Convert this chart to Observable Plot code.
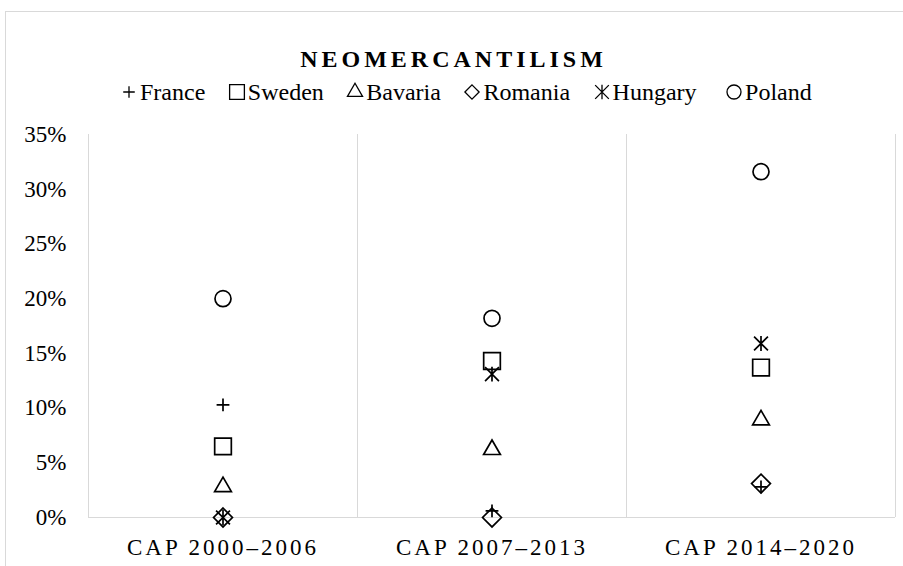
<!DOCTYPE html>
<html><head><meta charset="utf-8">
<script src="https://cdn.jsdelivr.net/npm/d3@7"></script>
<script src="https://cdn.jsdelivr.net/npm/@observablehq/plot@0.6"></script>
<style>
body{margin:0;background:#fff;}
#wrap{position:relative;width:903px;height:566px;overflow:hidden;font-family:"Liberation Serif","Times New Roman",serif;color:#000;}
#border{position:absolute;left:5px;top:11px;width:1000px;height:1000px;border:1px solid #d9d9d9;box-sizing:border-box;}
#title{position:absolute;left:0;top:47px;width:903px;text-align:center;font-weight:bold;font-size:24px;line-height:24px;letter-spacing:4px;padding-left:4px;box-sizing:border-box;}
#legend{position:absolute;left:121px;top:80px;display:flex;align-items:center;font-size:24px;line-height:24px;white-space:nowrap;}
#legend .item{display:flex;align-items:center;margin-right:23.5px;}
#legend .item:last-child{margin-left:6px;}
#legend svg{margin-right:3px;overflow:visible;}
#chart{position:absolute;left:0;top:120px;}
</style></head>
<body>
<div id="wrap">
  <div id="border"></div>
  <div id="title">NEOMERCANTILISM</div>
  <div id="legend"></div>
  <div id="chart"></div>
</div>
<script>
const categories = ["CAP 2000–2006", "CAP 2007–2013", "CAP 2014–2020"];
const seriesNames = ["France", "Sweden", "Bavaria", "Romania", "Hungary", "Poland"];
const france  = [0.103, 0.006, 0.028];
const sweden  = [0.065, 0.143, 0.137];
const bavaria = [0.028, 0.062, 0.089];
const romania = [0.000, 0.000, 0.031];
const hungary = [0.000, 0.131, 0.159];
const poland  = [0.200, 0.182, 0.316];
const yTicks = [0, 0.05, 0.10, 0.15, 0.20, 0.25, 0.30, 0.35];

const values = {France: france, Sweden: sweden, Bavaria: bavaria, Romania: romania, Hungary: hungary, Poland: poland};

// Excel-style "star" marker: an X plus a vertical stroke
const starSymbol = {
  draw(context, size) {
    const r = Math.sqrt(size / Math.PI);
    const a = r * 0.95, b = r * 1.02;
    context.moveTo(-a, -a); context.lineTo(a, a);
    context.moveTo(-a, a); context.lineTo(a, -a);
    context.moveTo(0, -b); context.lineTo(0, b);
  }
};
const symbolOf = {France: d3.symbolPlus, Sweden: d3.symbolSquare2, Bavaria: d3.symbolTriangle2, Romania: d3.symbolDiamond2, Hungary: starSymbol, Poland: d3.symbolCircle};
const chartR = {France: 4.2, Sweden: 10.6, Bavaria: 8, Romania: 8.5, Hungary: 7.3, Poland: 8};
const legendR = {France: 3.8, Sweden: 9.4, Bavaria: 7.2, Romania: 6.4, Hungary: 7.2, Poland: 7};

const rows = [];
seriesNames.forEach(s => values[s].forEach((v, j) => rows.push({series: s, cat: categories[j], x: j + 0.5, value: v})));

// Legend
const legend = d3.select("#legend");
seriesNames.forEach(s => {
  const item = legend.append("div").attr("class", "item");
  const r = legendR[s];
  const svg = item.append("svg").attr("width", 16).attr("height", 18).attr("viewBox", "-8 -9 16 18");
  svg.append("path").attr("d", d3.symbol(symbolOf[s], Math.PI * r * r)())
    .attr("fill", "none").attr("stroke", "#000").attr("stroke-width", 1.3);
  item.append("span").text(s);
});

const chart = Plot.plot({
  width: 903,
  height: 446,
  marginLeft: 88,
  marginRight: 8,
  marginTop: 14,
  marginBottom: 49,
  style: {fontFamily: "'Liberation Serif', 'Times New Roman', serif", fontSize: "23px", color: "#000", background: "transparent", overflow: "visible"},
  x: {type: "linear", domain: [0, categories.length], ticks: categories.map((c, j) => j + 0.5), tickFormat: v => categories[Math.floor(v)], tickSize: 0, tickPadding: 21, label: null},
  y: {domain: [0, 0.35], ticks: yTicks, tickFormat: d3.format(".0%"), tickSize: 0, tickPadding: 22, label: null},
  marks: [
    Plot.ruleX(d3.range(categories.length + 1), {stroke: "#d9d9d9", strokeWidth: 1, strokeOpacity: 1}),
    Plot.ruleY([0], {stroke: "#d9d9d9", strokeWidth: 1, strokeOpacity: 1}),
    ...seriesNames.map(s => Plot.dot(rows.filter(d => d.series === s), {
      x: "x", y: "value", symbol: symbolOf[s], r: chartR[s],
      stroke: "#000", fill: "none", strokeWidth: 1.7
    }))
  ]
});
document.getElementById("chart").appendChild(chart);
d3.select(chart).selectAll('[aria-label^="x-axis"] text').style("letter-spacing", "3px");
</script>
</body></html>
